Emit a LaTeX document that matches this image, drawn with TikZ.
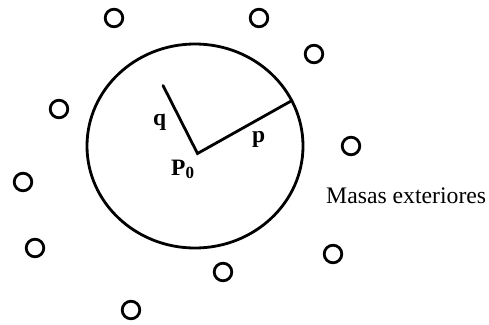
\documentclass[tikz,border=0pt]{standalone}
\usepackage{fontspec}
\setmainfont{Liberation Serif}
\begin{document}
\begin{tikzpicture}[x=1pt,y=-1pt,
  mass/.style={draw, circle, line width=2.8pt, minimum size=17.6pt, inner sep=0pt},
  boundary/.style={draw, line width=2.8pt},
  radius line/.style={draw, line width=2.8pt, line cap=round, line join=miter},
  lbl/.style={inner sep=0pt, anchor=base west, font=\fontsize{23.5}{28}\selectfont\bfseries},
  txt/.style={inner sep=0pt, anchor=base west, font=\fontsize{23.7}{28}\selectfont}]
\useasboundingbox (0,0) rectangle (489,324);
% big boundary
\draw[boundary] (195,146) ellipse [x radius=108pt, y radius=102pt];
% radii
\coordinate (P0) at (197.5,153.5);
\coordinate (pend) at (292,100.5);
\coordinate (qend) at (163,85.5);
\draw[radius line] (qend) -- (P0) -- (pend);
% labels
\node[lbl] (q) at (153,125) {q};
\node[lbl] (p) at (252,142) {p};
\node[lbl] (P0lbl) at (171,175) {P\raisebox{-3pt}{\fontsize{17}{17}\selectfont 0}};
\node[txt] (masas) at (326,203.3) {Masas exteriores};
% exterior masses
\node[mass] (m1) at (114,18) {};
\node[mass] (m2) at (259,18) {};
\node[mass] (m3) at (314,54) {};
\node[mass] (m4) at (59,109) {};
\node[mass] (m5) at (351,146) {};
\node[mass] (m6) at (23,182) {};
\node[mass] (m7) at (35,248) {};
\node[mass] (m8) at (333,254) {};
\node[mass] (m9) at (223,272) {};
\node[mass] (m10) at (131,310) {};
\end{tikzpicture}
\end{document}
